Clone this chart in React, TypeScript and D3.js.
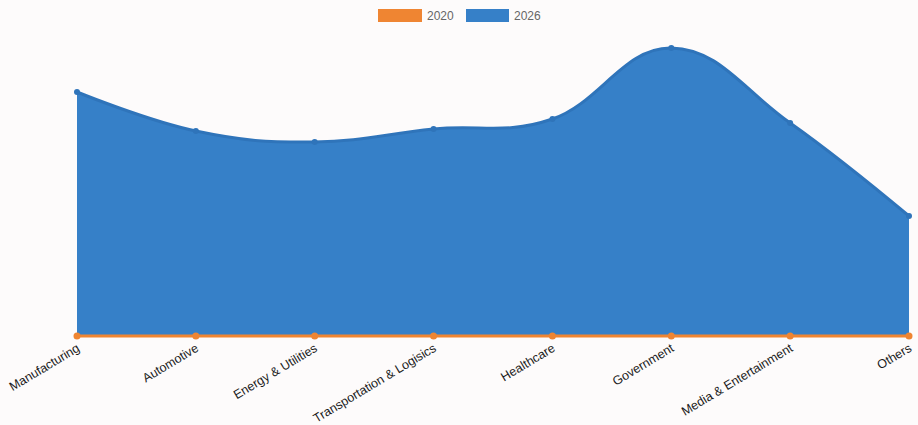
import React from "react";
import * as d3 from "d3";

const categories = [
  "Manufacturing",
  "Automotive",
  "Energy & Utilities",
  "Transportation & Logisics",
  "Healthcare",
  "Government",
  "Media & Entertainment",
  "Others",
];
const values2020 = [1, 1, 1, 1, 1, 1, 1, 1];
const values2026 = [245, 206, 195, 208, 218, 289, 214, 121];
const seriesNames = ["2020", "2026"];

const W = 918;
const H = 425;
const BLUE = "#3680C8";
const BLUE_LINE = "#2F74BA";
const ORANGE = "#EF8532";

export default function App() {
  const x = d3.scalePoint<string>().domain(categories).range([77, 909]);
  const y = d3.scaleLinear().domain([0, 300]).range([337, 37]);
  const curve = d3.curveCardinal.tension(-0.2);

  const area = d3
    .area<number>()
    .x((_, i) => x(categories[i])!)
    .y0(y(0))
    .y1((d) => y(d))
    .curve(curve);
  const line = d3
    .line<number>()
    .x((_, i) => x(categories[i])!)
    .y((d) => y(d))
    .curve(curve);

  return (
    <svg
      width={W}
      height={H}
      style={{ position: "absolute", left: 0, top: 0, background: "#FDFBFB" }}
      fontFamily="'Liberation Sans', Arial, Helvetica, sans-serif"
    >
      {/* legend */}
      <g>
        <rect x={378} y={9} width={44} height={13} fill={ORANGE} />
        <text x={427} y={20} fontSize={12} fill="#666">{seriesNames[0]}</text>
        <rect x={466} y={9} width={43} height={13} fill={BLUE} />
        <text x={514} y={20} fontSize={12} fill="#666">{seriesNames[1]}</text>
      </g>

      {/* 2026 area */}
      <path d={area(values2026) || ""} fill={BLUE} />
      <path d={line(values2026) || ""} fill="none" stroke={BLUE_LINE} strokeWidth={3} />
      {values2026.map((v, i) => (
        <circle key={"b" + i} cx={x(categories[i])} cy={y(v)} r={3} fill={BLUE_LINE} />
      ))}

      {/* 2020 line */}
      <path d={area(values2020) || ""} fill={ORANGE} opacity={0.9} />
      <path d={line(values2020) || ""} fill="none" stroke={ORANGE} strokeWidth={3} />
      {values2020.map((v, i) => (
        <circle key={"o" + i} cx={x(categories[i])} cy={y(v)} r={3.5} fill={ORANGE} />
      ))}

      {/* x labels */}
      {categories.map((c) => (
        <text
          key={c}
          transform={`translate(${x(c)! - 1},${343}) rotate(-31)`}
          textAnchor="end"
          fontSize={12.5}
          fill="#1a1a1a"
          dy="0.7em"
        >
          {c}
        </text>
      ))}
    </svg>
  );
}
